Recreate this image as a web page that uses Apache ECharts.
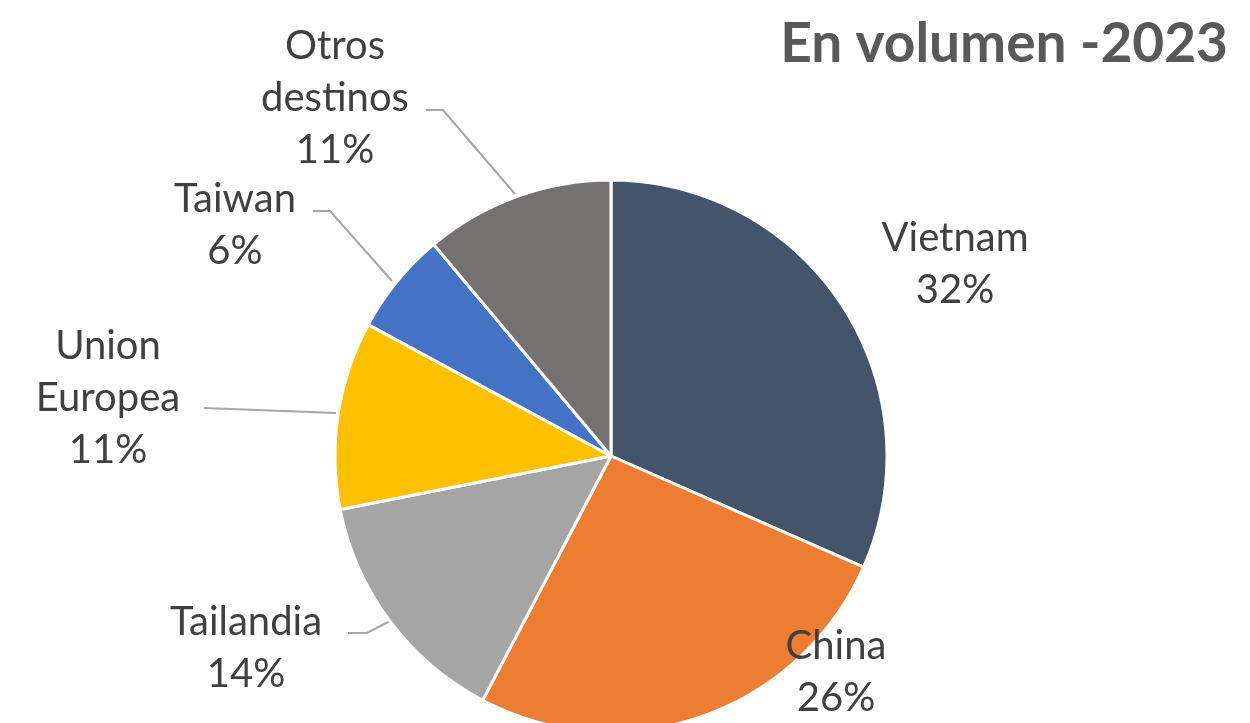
<!DOCTYPE html>
<html>
<head>
<meta charset="utf-8">
<script src="https://cdn.jsdelivr.net/npm/echarts@6/dist/echarts.min.js"></script>
<style>
  html, body { margin: 0; padding: 0; background: #fff; }
  #chart { width: 1250px; height: 723px; }
</style>
</head>
<body>
<div id="chart"></div>
<script>
// datos
const paises = ["Vietnam", "China", "Tailandia", "Union\nEuropea", "Taiwan", "Otros\ndestinos"];
const volumen = [31.6, 26.1, 14.2, 11.0, 6.0, 11.1];
const colores = ["#44546A", "#ED7D31", "#A5A5A5", "#FFC000", "#4472C4", "#767171"];

// posicion de cada etiqueta y su linea guia
const labelPos = [
  { x: 955, y: 264, line: null },
  { x: 836, y: 672, line: null },
  { x: 246, y: 648, line: [[348, 633], [367, 633], [390, 621]] },
  { x: 108, y: 398, line: [[204, 408], [336, 413]] },
  { x: 235, y: 225, line: [[313, 211], [330, 211], [392, 281]] },
  { x: 335, y: 98, line: [[426, 110], [443, 110], [515, 194]] }
];

let myChart = echarts.init(document.getElementById("chart"));

myChart.setOption({
  animation: false,
  title: {
    text: "En volumen -2023",
    right: 17,
    top: 12,
    textStyle: {
      color: "#595959",
      fontFamily: "Lato",
      fontWeight: "bold",
      fontSize: 55
    }
  },
  series: [
    {
      type: "pie",
      center: [611, 456],
      radius: 276,
      startAngle: 90,
      clockwise: true,
      avoidLabelOverlap: false,
      itemStyle: {
        borderColor: "#fff",
        borderWidth: 3
      },
      label: {
        show: true,
        position: "outside",
        color: "#404040",
        fontFamily: "Lato",
        fontSize: 40,
        lineHeight: 52,
        align: "center",
        formatter: (p) => p.name + "\n" + Math.round(p.percent) + "%"
      },
      labelLine: {
        show: true,
        lineStyle: { color: "#A6A6A6", width: 2 }
      },
      labelLayout: (params) => {
        let pos = labelPos[params.dataIndex];
        let out = { x: pos.x, y: pos.y, align: "center", verticalAlign: "middle" };
        if (pos.line) out.labelLinePoints = pos.line;
        return out;
      },
      data: paises.map((n, i) => ({
        name: n,
        value: volumen[i],
        itemStyle: { color: colores[i] },
        labelLine: { show: labelPos[i].line !== null }
      }))
    }
  ]
});
</script>
</body>
</html>
